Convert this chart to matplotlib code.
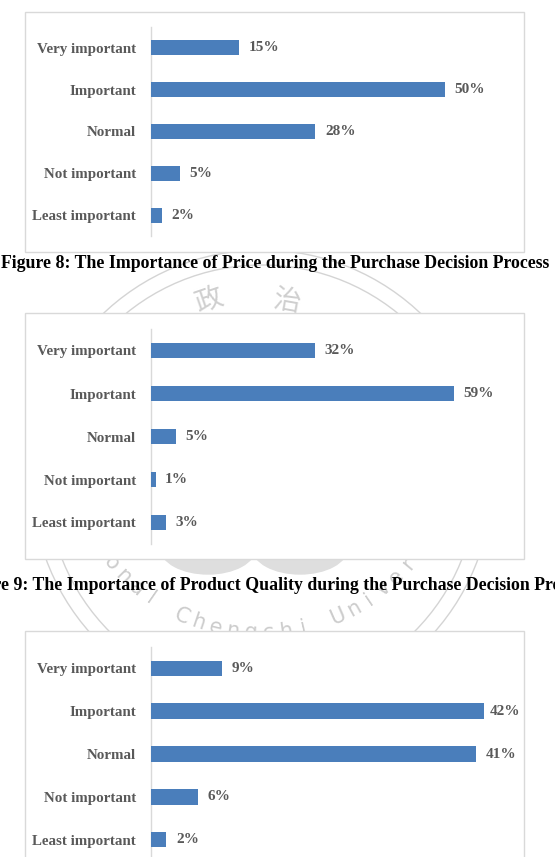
import numpy as np
import matplotlib
matplotlib.use("Agg")
import matplotlib.pyplot as plt
from matplotlib.patches import Rectangle, Circle, Ellipse

# data
categories = ["Very important", "Important", "Normal", "Not important", "Least important"]
price      = [15, 50, 28, 5, 2]
quality    = [32, 59, 5, 1, 3]
third      = [9, 42, 41, 6, 2]
captions   = ["Figure 8: The Importance of Price during the Purchase Decision Process",
              "Figure 9: The Importance of Product Quality during the Purchase Decision Process"]

W, H = 555, 857
fig = plt.figure(figsize=(W / 100, H / 100), dpi=100)

SERIF = "Liberation Serif"
GREY  = "#595959"
BLUE  = "#4a7ebb"

def px_axes(x0, y0, x1, y1, **kw):
    # pixel box (top-left origin) -> figure axes
    return fig.add_axes([x0 / W, 1 - y1 / H, (x1 - x0) / W, (y1 - y0) / H], **kw)

# background layer: watermark, boxes, captions
bg = px_axes(0, 0, W, H)
bg.set_xlim(0, W)
bg.set_ylim(H, 0)
bg.axis("off")

wm = "#d4d4d4"
for r in (230, 215):
    bg.add_patch(Circle((262, 480), r, fill=False, ec=wm, lw=1.0, zorder=1))
bg.add_patch(Ellipse((208, 548), 95, 52, color="#dedede", zorder=1))
bg.add_patch(Ellipse((300, 548), 95, 52, color="#dedede", zorder=1))
bg.text(209, 300, "政", fontsize=20, color="#cfcfcf", rotation=19,
        family=["Noto Sans CJK TC", "DejaVu Sans"], ha="center", va="center", zorder=1)
bg.text(287, 302, "治", fontsize=20, color="#cfcfcf", rotation=-10,
        family=["Noto Sans CJK TC", "DejaVu Sans"], ha="center", va="center", zorder=1)
ring = "National Chengchi University"
for i, ch in enumerate(ring):
    th = np.deg2rad(161.7 - 5.3 * i)
    bg.text(260 + 193 * np.cos(th), 440 + 193 * np.sin(th), ch, fontsize=15,
            color="#cccccc", rotation=90 - np.rad2deg(th),
            ha="center", va="center", zorder=1)

# chart frames
boxes = [(24.5, 11.5, 524, 252), (24.5, 313, 524, 559), (24.5, 631, 524, 900)]
for (x0, y0, x1, y1) in boxes:
    bg.add_patch(Rectangle((x0, y0), x1 - x0, y1 - y0, fc="white",
                           ec="#d9d9d9", lw=1.0, zorder=2))

bg.text(275, 264, captions[0], fontsize=12.8, fontweight="bold", family=SERIF,
        ha="center", va="center", zorder=3)
bg.text(275, 586, captions[1], fontsize=12.8, fontweight="bold", family=SERIF,
        ha="center", va="center", zorder=3)

# bar panels: (values, axes top px, axes bottom px, xmax)
panels = [(price, 27, 236, 60.2), (quality, 329, 544, 69), (third, 647, 861, 44.6)]
AX_L, AX_R = 150.5, 505
for vals, top, bot, xmax in panels:
    ax = px_axes(AX_L, top, AX_R, bot)
    ax.patch.set_alpha(0)
    y = np.arange(len(categories))
    ax.barh(y, vals, height=0.36, color=BLUE, zorder=3)
    ax.set_ylim(len(categories) - 0.5, -0.5)
    ax.set_xlim(0, xmax)
    ax.set_yticks(y)
    ax.set_yticklabels(categories, family=SERIF, fontweight="bold",
                       fontsize=10.8, color=GREY)
    ax.tick_params(axis="y", length=0, pad=10.4)
    ax.set_xticks([])
    for s in ("top", "right", "bottom"):
        ax.spines[s].set_visible(False)
    ax.spines["left"].set_color("#d9d9d9")
    ax.spines["left"].set_linewidth(1.0)
    ppu = (AX_R - AX_L) / xmax
    lim = (490 - AX_L) / ppu
    for i, v in enumerate(vals):
        ax.text(min(v + 9.5 / ppu, lim), i, f"{v}%", family=SERIF, fontweight="bold",
                fontsize=11, color=GREY, ha="left", va="center")

fig.savefig("out.png", dpi=100)
